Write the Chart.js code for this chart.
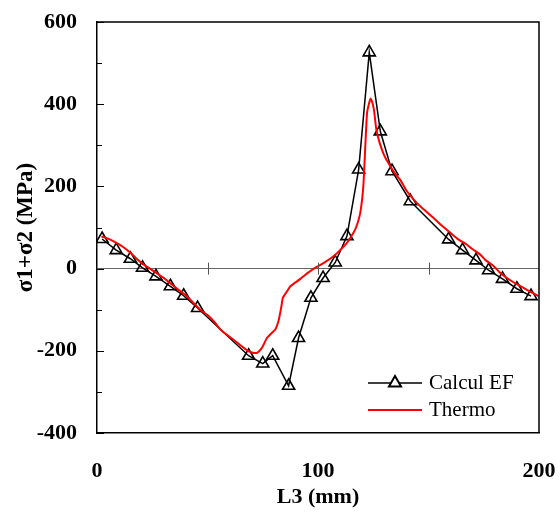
<!DOCTYPE html>
<html>
<head>
<meta charset="utf-8">
<script src="https://cdn.jsdelivr.net/npm/chart.js@4/dist/chart.umd.min.js"></script>
<style>
html,body{margin:0;padding:0;background:#fff;}
#wrap{width:560px;height:514px;position:relative;}
</style>
</head>
<body>
<div id="wrap"><canvas id="c" width="560" height="514"></canvas></div>
<script>
// Calcul EF (finite element) points
const efX = [2.3, 8.7, 15.1, 20.6, 26.7, 33.2, 39.2, 45.5, 68.6, 75.0, 79.5, 86.7, 91.2, 96.8, 102.3, 107.8, 113.1, 118.4, 123.2, 128.2, 133.5, 141.8, 159.1, 165.4, 171.5, 177.2, 183.5, 190.0, 196.4];
const efY = [72, 45, 24, 2, -19, -43, -66, -96, -212, -231, -212, -285, -169, -71, -23, 15, 79, 241, 526, 334, 237, 164, 71, 45, 20, -4, -25, -49, -67];
// Thermo (thermoelastic measurement) curve
const thX = [2, 5, 9, 12, 15, 18, 21, 24, 27, 30, 33, 36, 40.6, 43, 46.7, 50, 52.8, 55.8, 58, 61.8, 65, 67.9, 70, 72.4, 74.6, 76.9, 79, 80.7, 82, 82.6, 83.5, 84.1, 86, 87.5, 90, 92, 94, 96.5, 99.4, 103, 107, 110, 113, 115, 116.8, 118, 119.1, 120, 120.6, 121.4, 122.2, 123, 123.8, 124.8, 125.5, 126.4, 127.9, 130, 132.7, 135, 137.2, 140, 143.3, 147, 152.3, 156, 159.9, 163, 167.4, 170, 173.4, 176, 179.5, 182, 185.5, 189, 193, 196, 199.8];
const thY = [78, 73, 62, 52, 39, 24, 10, 0, -11, -22, -35, -48, -67, -80, -100, -113, -128, -148, -158, -173, -187, -199, -204, -205, -193, -169, -157, -148, -130, -116, -90, -71, -55, -43, -33, -25, -16, -6, 4, 15, 30, 45, 62, 78, 95, 112, 135, 170, 208, 298, 379, 400, 414, 400, 379, 338, 306, 275, 249, 230, 216, 190, 168, 148, 123, 105, 87, 73, 58, 47, 34, 20, 6, -8, -23, -35, -47, -56, -67];
const seriesNames = ["Calcul EF", "Thermo"];
const xTickLabels = [0, 100, 200];
const yTickLabels = [-400, -200, 0, 200, 400, 600];
const xTitle = "L3 (mm)";
const yTitle = "\u03C31+\u03C32 (MPa)";

const efData = efX.map((x, i) => ({x: x, y: efY[i]}));
const thData = thX.map((x, i) => ({x: x, y: thY[i]}));

const serif = "'Liberation Serif', 'Times New Roman', serif";

const decorPlugin = {
  id: 'decor',
  afterDraw(chart) {
    const ctx = chart.ctx;
    const a = chart.chartArea;
    const xs = chart.scales.x, ys = chart.scales.y;
    ctx.save();
    // frame (top and right)
    ctx.strokeStyle = '#000';
    ctx.lineWidth = 1.5;
    ctx.beginPath();
    ctx.moveTo(a.left, a.top); ctx.lineTo(a.right, a.top); ctx.lineTo(a.right, a.bottom);
    ctx.stroke();
    // inward y ticks every 100
    ctx.lineWidth = 1;
    for (let v = -400; v <= 600; v += 100) {
      const py = Math.round(ys.getPixelForValue(v)) + 0.5;
      const len = (v % 200 === 0) ? 7 : 5;
      ctx.beginPath(); ctx.moveTo(a.left, py); ctx.lineTo(a.left + len, py); ctx.stroke();
    }
    // x ticks on zero line
    const y0 = ys.getPixelForValue(0);
    ctx.strokeStyle = '#555';
    for (let v = 50; v < 200; v += 50) {
      const px = Math.round(xs.getPixelForValue(v)) + 0.5;
      ctx.beginPath(); ctx.moveTo(px, y0 - 6); ctx.lineTo(px, y0 + 6); ctx.stroke();
    }
    // legend
    const ds = chart.data.datasets;
    const lx0 = a.right - 171, lx1 = a.right - 117, tx = a.right - 110;
    const rows = [a.bottom - 50, a.bottom - 23];
    ctx.font = "21px " + serif;
    ctx.textBaseline = 'middle';
    ctx.fillStyle = '#000';
    ds.forEach((d, i) => {
      const ry = rows[i];
      ctx.strokeStyle = d.borderColor;
      ctx.lineWidth = d.borderWidth;
      ctx.beginPath(); ctx.moveTo(lx0, ry); ctx.lineTo(lx1, ry); ctx.stroke();
      if (d.pointStyle === 'triangle') {
        const r = d.pointRadius, cx = (lx0 + lx1) / 2;
        ctx.lineWidth = 2;
        ctx.beginPath();
        ctx.moveTo(cx, ry - r);
        ctx.lineTo(cx + r * 0.866, ry + r * 0.5);
        ctx.lineTo(cx - r * 0.866, ry + r * 0.5);
        ctx.closePath();
        ctx.fillStyle = '#fff'; ctx.fill();
        ctx.stroke();
      }
      ctx.fillStyle = '#000';
      ctx.fillText(d.label, tx, ry);
    });
    ctx.restore();
  }
};

new Chart(document.getElementById('c'), {
  type: 'line',
  data: {
    datasets: [
      {
        label: seriesNames[0], data: efData, borderColor: '#000', borderWidth: 1.5,
        pointStyle: 'triangle', pointRadius: 7, pointBorderWidth: 1.6,
        pointBorderColor: '#000', pointBackgroundColor: 'rgba(0,0,0,0)', tension: 0, order: 1
      },
      {
        label: seriesNames[1], data: thData, borderColor: '#ff0000', borderWidth: 2,
        pointRadius: 0, tension: 0.2, order: 0
      }
    ]
  },
  plugins: [decorPlugin],
  options: {
    responsive: false, animation: false,
    layout: {padding: {left: 0, right: 21, top: 22, bottom: 0}},
    plugins: {legend: {display: false}, tooltip: {enabled: false}},
    scales: {
      x: {
        type: 'linear', min: 0, max: 200,
        afterFit(s) { s.height = 81; s.paddingLeft = 0; s.paddingRight = 0; },
        afterBuildTicks(s) { s.ticks = xTickLabels.map(v => ({value: v})); },
        grid: {display: false, drawTicks: false},
        border: {display: true, color: '#000', width: 1.5},
        ticks: {padding: 25, maxRotation: 0, color: '#000', font: {family: serif, size: 22, weight: 'bold'}},
        title: {display: true, text: xTitle, color: '#000', padding: {top: 0, bottom: 3}, font: {family: serif, size: 22, weight: 'bold'}}
      },
      y: {
        type: 'linear', min: -400, max: 600,
        afterFit(s) { s.width = 97; s.paddingTop = 0; s.paddingBottom = 0; },
        afterBuildTicks(s) { s.ticks = yTickLabels.map(v => ({value: v})); },
        grid: {drawTicks: false, color: (c) => (c.tick && c.tick.value === 0) ? '#666' : 'rgba(0,0,0,0)', lineWidth: 1},
        border: {display: true, color: '#000', width: 1.5},
        ticks: {padding: 20, color: '#000', font: {family: serif, size: 22, weight: 'bold'}},
        title: {display: true, text: yTitle, color: '#000', padding: {top: 12, bottom: 0}, font: {family: serif, size: 23, weight: 'bold'}}
      }
    }
  }
});
</script>
</body>
</html>
